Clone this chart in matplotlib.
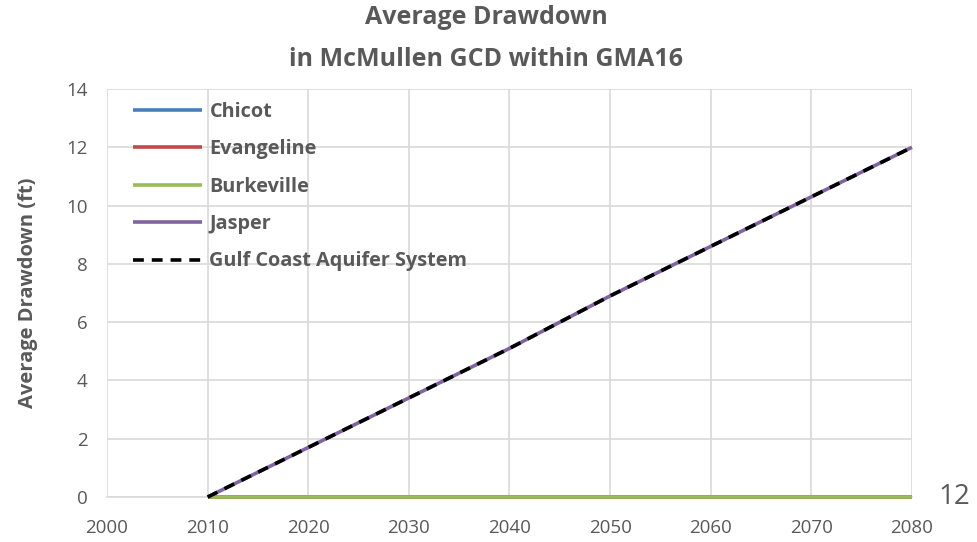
import matplotlib
matplotlib.use("Agg")
import matplotlib.pyplot as plt

years = [2010, 2020, 2030, 2040, 2050, 2060, 2070, 2080]
chicot = [0, 0, 0, 0, 0, 0, 0, 0]
evangeline = [0, 0, 0, 0, 0, 0, 0, 0]
burkeville = [0, 0, 0, 0, 0, 0, 0, 0]
jasper = [0, 1.7, 3.4, 5.1, 6.9, 8.6, 10.3, 12.0]
gulf_coast = [0, 1.7, 3.4, 5.1, 6.9, 8.6, 10.3, 12.0]

xticks = [2000, 2010, 2020, 2030, 2040, 2050, 2060, 2070, 2080]
yticks = [0, 2, 4, 6, 8, 10, 12, 14]

plt.rcParams['font.family'] = ['Open Sans', 'DejaVu Sans']

fig = plt.figure(figsize=(9.78, 5.42), dpi=100)
ax = fig.add_axes([0.1094, 0.083, 0.8231, 0.7528])

kw = dict(lw=2.6, solid_capstyle='butt', clip_on=False, zorder=3)
ax.plot(years, chicot, color='#4a7ebb', label='Chicot', **kw)
ax.plot(years, evangeline, color='#be4b48', label='Evangeline', **kw)
ax.plot(years, burkeville, color='#9bbb59', label='Burkeville', **kw)
ax.plot(years, jasper, color='#8064a2', label='Jasper', **kw)
ax.plot(years, gulf_coast, color='black', lw=2.6, ls=(0, (3.0, 2.2)), label='Gulf Coast Aquifer System',
        clip_on=False, zorder=4)

ax.set_xlim(2000, 2080)
ax.set_ylim(0, 14)
ax.set_xticks(xticks)
ax.set_yticks(yticks)
ax.grid(True, color='#d9d9d9', lw=1.2)
ax.set_axisbelow(True)
for s in ['top', 'right', 'left']:
    ax.spines[s].set_visible(False)
ax.spines['bottom'].set_color('#d9d9d9')
ax.spines['bottom'].set_linewidth(1.2)
ax.tick_params(length=0, colors='#595959')
ax.tick_params(axis='x', pad=16)
ax.tick_params(axis='y', pad=14)
for lab in ax.get_xticklabels() + ax.get_yticklabels():
    lab.set_fontsize(13.5)

ax.set_ylabel('Average Drawdown (ft)', fontsize=14.5, fontweight='bold', color='#595959', labelpad=20)
fig.suptitle('Average Drawdown\nin McMullen GCD within GMA16', fontsize=18, fontweight='bold',
             color='#595959', x=0.497, y=0.99, linespacing=1.85)

leg = ax.legend(loc='upper left', bbox_to_anchor=(0.01, 1.013), frameon=False, handlelength=3.5,
                handletextpad=0.35, labelspacing=0.88, fontsize=14.3)
for t in leg.get_texts():
    t.set_color('#595959')
    t.set_fontweight('bold')

fig.text(0.976, 0.083, '12', fontsize=20, color='#595959', ha='center', va='center')

fig.savefig('out.png', dpi=100)
